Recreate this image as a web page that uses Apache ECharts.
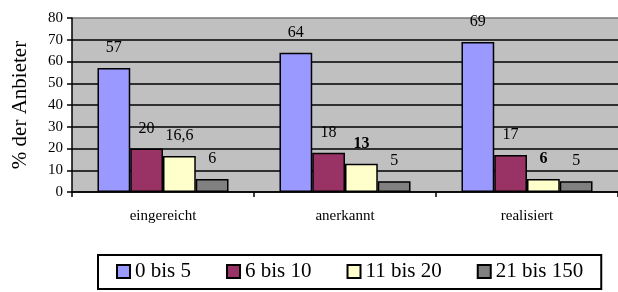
<!DOCTYPE html>
<html>
<head>
<meta charset="utf-8">
<script src="https://cdn.jsdelivr.net/npm/echarts@6/dist/echarts.min.js"></script>
<style>
  html, body { margin: 0; padding: 0; background: #fff; }
  #chart { width: 618px; height: 292px; }
</style>
</head>
<body>
<div id="chart"></div>
<script>
// Daten
const categories = ['eingereicht', 'anerkannt', 'realisiert']
const seriesNames = ['0 bis 5', '6 bis 10', '11 bis 20', '21 bis 150']
const values0to5 = [57, 64, 69]
const values6to10 = [20, 18, 17]
const values11to20 = [16.6, 13, 6]
const values21to150 = [6, 5, 5]
const boldLabels11to20 = [false, true, true]
const yTicks = [0, 10, 20, 30, 40, 50, 60, 70, 80]

const colors = ['#9999FF', '#993366', '#FFFFCC', '#808080']
const font = '"Liberation Serif", "Times New Roman", serif'

const makeSeries = (name, values, color, bold) => ({
  name: name,
  type: 'bar',
  barGap: 0,
  barCategoryGap: '28%',
  itemStyle: { color: color, borderColor: '#000', borderWidth: 1.5 },
  label: {
    show: true,
    position: 'top',
    distance: 12,
    color: '#000',
    fontFamily: font,
    fontSize: 16,
    formatter: p => String(p.value).replace('.', ',')
  },
  data: values.map((v, i) => ({
    value: v,
    label: { fontWeight: bold && bold[i] ? 'bold' : 'normal' }
  }))
})

const chart = echarts.init(document.getElementById('chart'))

chart.setOption({
  animation: false,
  grid: {
    left: 72,
    top: 18,
    width: 552,
    height: 174,
    show: true,
    backgroundColor: '#C0C0C0',
    borderWidth: 0
  },
  legend: {
    left: 98,
    top: 255,
    padding: [6, 18, 7, 18],
    itemGap: 35,
    itemWidth: 13,
    itemHeight: 13,
    borderColor: '#000',
    borderWidth: 2,
    icon: 'rect',
    data: seriesNames,
    textStyle: { fontFamily: font, fontSize: 21, color: '#000' }
  },
  xAxis: {
    type: 'category',
    data: categories,
    axisLine: { lineStyle: { color: '#000', width: 1.5 } },
    axisTick: { show: true, length: 5, lineStyle: { color: '#000', width: 1.5 } },
    axisLabel: { margin: 17, color: '#000', fontFamily: font, fontSize: 15 }
  },
  yAxis: {
    type: 'value',
    min: yTicks[0],
    max: yTicks[yTicks.length - 1],
    interval: 10,
    name: '% der Anbieter',
    nameLocation: 'middle',
    nameGap: 41,
    nameTextStyle: { fontFamily: font, fontSize: 21, color: '#000' },
    axisLine: { show: true, lineStyle: { color: '#000', width: 1.5 } },
    axisTick: { show: true, length: 5, lineStyle: { color: '#000', width: 1.5 } },
    axisLabel: { margin: 9, color: '#000', fontFamily: font, fontSize: 15 },
    splitLine: {
      show: true,
      lineStyle: {
        color: ['#000', '#000', '#000', '#000', '#000', '#000', '#000', '#000', '#777'],
        width: 1.5
      }
    }
  },
  series: [
    makeSeries(seriesNames[0], values0to5, colors[0]),
    makeSeries(seriesNames[1], values6to10, colors[1]),
    makeSeries(seriesNames[2], values11to20, colors[2], boldLabels11to20),
    makeSeries(seriesNames[3], values21to150, colors[3])
  ]
})
</script>
</body>
</html>
